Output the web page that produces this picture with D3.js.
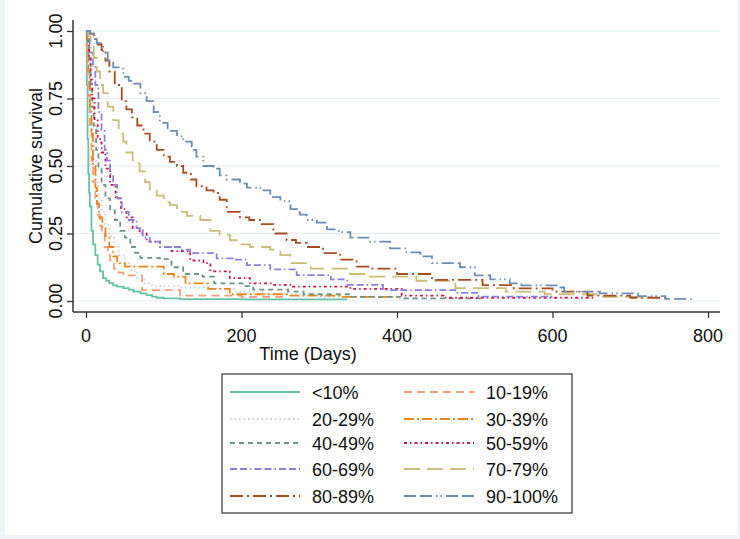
<!DOCTYPE html>
<html><head><meta charset="utf-8">
<script src="https://cdn.jsdelivr.net/npm/d3@7"></script>
<style>
html,body{margin:0;padding:0;background:#fff;}
svg{display:block;font-family:"Liberation Sans",Arial,sans-serif;}
</style></head>
<body>
<svg id="chart" width="740" height="539"></svg>
<script>
// ---------- data ----------
const groupLabels = ["<10%","10-19%","20-29%","30-39%","40-49%","50-59%","60-69%","70-79%","80-89%","90-100%"];
const xTicks = [0,200,400,600,800];
const yTicks = [0,0.25,0.5,0.75,1];
const yTickLabels = ["0.00","0.25","0.50","0.75","1.00"];

const t_g1 = [0,1,2,3,4,5,7,9,12,15,18,22,26,30,35,40,48,55,61,70,78,85,91,100,121,200,336];
const s_g1 = [1,0.8,0.6,0.47,0.4,0.35,0.26,0.21,0.17,0.135,0.11,0.085,0.075,0.066,0.058,0.053,0.048,0.042,0.035,0.028,0.022,0.016,0.012,0.010,0.007,0.006,0.006];

const t_g2 = [0,1,2,3,5,7,9,12,15,18,20,24,28,31,36,42,48,72,121,200,260];
const s_g2 = [1,0.93,0.85,0.76,0.63,0.52,0.44,0.37,0.32,0.28,0.25,0.2,0.17,0.15,0.12,0.105,0.095,0.04,0.02,0.015,0.015];

const t_g3 = [0,2,4,6,8,10,13,16,20,25,30,36,42,50,58,66,75,85,120,160,190,230,300,400,450];
const s_g3 = [1,0.93,0.82,0.7,0.6,0.52,0.44,0.38,0.33,0.28,0.24,0.2,0.17,0.14,0.11,0.085,0.065,0.055,0.05,0.045,0.035,0.025,0.015,0.008,0.008];

const t_g4 = [0,1,3,5,7,9,12,14,17,21,25,30,35,40,50,100,113,128,157,185,260,330,395];
const s_g4 = [1,0.95,0.85,0.72,0.62,0.5,0.42,0.36,0.31,0.27,0.24,0.2,0.165,0.14,0.127,0.1,0.09,0.065,0.045,0.025,0.02,0.015,0.015];

const t_g5 = [0,2,4,6,8,10,13,16,20,25,31,37,44,50,57,63,70,95,110,125,150,165,205,215,260,280,340,410,510];
const s_g5 = [1,0.96,0.88,0.8,0.72,0.65,0.56,0.49,0.43,0.38,0.34,0.3,0.26,0.235,0.2,0.178,0.16,0.155,0.125,0.1,0.09,0.065,0.055,0.042,0.035,0.025,0.015,0.01,0.01];

const t_g6 = [0,2,4,6,8,11,15,20,25,31,38,45,52,60,69,78,95,110,134,151,160,185,211,240,266,340,406,460,655];
const s_g6 = [1,0.97,0.9,0.82,0.75,0.67,0.6,0.55,0.49,0.43,0.38,0.34,0.31,0.27,0.25,0.22,0.2,0.185,0.15,0.14,0.11,0.085,0.065,0.06,0.053,0.045,0.02,0.012,0.012];

const t_g7 = [0,2,5,9,12,16,20,24,27,31,35,40,46,55,65,73,82,95,121,134,168,189,207,237,271,315,336,382,475,505,600];
const s_g7 = [1,0.97,0.92,0.87,0.8,0.7,0.63,0.56,0.52,0.47,0.43,0.38,0.33,0.3,0.27,0.235,0.22,0.2,0.19,0.177,0.158,0.153,0.133,0.117,0.096,0.08,0.06,0.04,0.03,0.016,0.016];

const t_g8 = [0,3,6,10,14,18,22,28,35,42,48,52,60,69,76,82,91,100,108,117,130,147,160,172,185,200,211,237,250,263,289,336,365,425,475,540,590,660,725];
const s_g8 = [1,0.98,0.95,0.9,0.85,0.8,0.77,0.72,0.67,0.62,0.59,0.55,0.51,0.48,0.44,0.41,0.39,0.365,0.355,0.33,0.315,0.3,0.26,0.245,0.225,0.21,0.2,0.19,0.17,0.14,0.12,0.1,0.09,0.075,0.048,0.035,0.025,0.015,0.015];

const t_g9 = [0,5,10,15,20,25,30,37,46,52,59,66,74,82,91,100,108,117,125,135,142,155,164,172,181,198,210,224,241,258,270,284,305,327,348,365,400,445,510,550,600,645,700,750];
const s_g9 = [1,0.99,0.97,0.95,0.93,0.89,0.85,0.8,0.74,0.71,0.68,0.65,0.62,0.59,0.56,0.535,0.515,0.5,0.475,0.45,0.425,0.41,0.4,0.375,0.33,0.31,0.3,0.285,0.25,0.226,0.215,0.2,0.177,0.153,0.127,0.12,0.1,0.078,0.059,0.047,0.035,0.02,0.012,0.012];

const t_g10 = [0,5,10,14,22,28,35,48,55,61,70,78,87,95,105,117,125,136,142,151,164,172,181,198,207,224,237,250,263,275,284,297,310,325,340,365,391,412,430,445,481,500,520,545,560,605,615,661,710,745,780];
const s_g10 = [1,0.99,0.97,0.955,0.92,0.89,0.865,0.83,0.815,0.805,0.77,0.74,0.7,0.66,0.63,0.61,0.59,0.56,0.535,0.5,0.49,0.465,0.45,0.435,0.42,0.41,0.385,0.37,0.34,0.32,0.3,0.29,0.265,0.255,0.235,0.22,0.195,0.18,0.165,0.14,0.125,0.095,0.08,0.065,0.058,0.05,0.035,0.028,0.018,0.008,0.008];

const seriesTimes = [t_g1,t_g2,t_g3,t_g4,t_g5,t_g6,t_g7,t_g8,t_g9,t_g10];
const seriesSurv  = [s_g1,s_g2,s_g3,s_g4,s_g5,s_g6,s_g7,s_g8,s_g9,s_g10];

// ---------- styles ----------
const colors = ["#66c2a5","#f89c7c","#c8cbea","#e8861c","#6b9681","#c8194d","#8a80da","#c9bd7a","#a84d22","#6f8db0"];
const dashes = ["none","8,5","1.5,3","10,3,2,3","5,4","3,3,1.5,3","7,3,7,3,1.5,3","16,7","13,4,2,4","12,4,12,4,1.5,3,1.5,4"];

const svg = d3.select("#chart");
const W = 740, H = 539;

// outer frame
svg.append("rect").attr("x",0).attr("y",0).attr("width",W).attr("height",H).attr("fill","#eef4f6");
svg.append("rect").attr("x",5).attr("y",0).attr("width",732).attr("height",535).attr("fill","#ffffff");

const x = d3.scaleLinear().domain([0,800]).range([86,708]);
const y = d3.scaleLinear().domain([0,1]).range([301,31]);
const plotL = 73, plotR = 720, plotT = 20, plotB = 312;

// gridlines
svg.append("g").selectAll("line").data(yTicks).join("line")
  .attr("x1",plotL).attr("x2",plotR)
  .attr("y1",d=>y(d)).attr("y2",d=>y(d))
  .attr("stroke","#e4edf1").attr("stroke-width",1.2);

// axes
const yAxis = d3.axisLeft(y).tickValues(yTicks).tickSize(6).tickFormat("");
const gy = svg.append("g").attr("transform",`translate(${plotL},0)`).call(yAxis);
gy.select(".domain").remove();
gy.selectAll(".tick line").attr("stroke","#333").attr("stroke-width",1.3);

const xAxis = d3.axisBottom(x).tickValues(xTicks).tickSize(6).tickFormat("");
const gx = svg.append("g").attr("transform",`translate(0,${plotB})`).call(xAxis);
gx.select(".domain").remove();
gx.selectAll(".tick line").attr("stroke","#333").attr("stroke-width",1.3);

svg.append("line").attr("x1",plotL).attr("x2",plotL).attr("y1",plotT).attr("y2",plotB)
  .attr("stroke","#333").attr("stroke-width",1.5);
svg.append("line").attr("x1",plotL).attr("x2",plotR).attr("y1",plotB).attr("y2",plotB)
  .attr("stroke","#333").attr("stroke-width",1.5);

// tick labels
svg.append("g").selectAll("text").data(yTicks).join("text")
  .attr("transform",d=>`translate(62,${y(d)}) rotate(-90)`)
  .attr("text-anchor","middle").attr("font-size",18).attr("fill","#111")
  .text((d,i)=>yTickLabels[i]);
svg.append("g").selectAll("text").data(xTicks).join("text")
  .attr("x",d=>x(d)).attr("y",342)
  .attr("text-anchor","middle").attr("font-size",18).attr("fill","#111")
  .text(d=>d);

// axis titles
svg.append("text").attr("transform","translate(41.5,166) rotate(-90)")
  .attr("text-anchor","middle").attr("font-size",18).attr("fill","#111").text("Cumulative survival");
svg.append("text").attr("x",308).attr("y",360)
  .attr("text-anchor","middle").attr("font-size",18).attr("fill","#111").text("Time (Days)");

// curves
const line = d3.line().x(d=>x(d[0])).y(d=>y(d[1])).curve(d3.curveStepAfter);
const gC = svg.append("g");
seriesTimes.forEach((ts,i)=>{
  const pts = ts.map((t,j)=>[t,seriesSurv[i][j]]);
  gC.append("path").datum(pts).attr("d",line)
    .attr("fill","none").attr("stroke",colors[i]).attr("stroke-width",1.8)
    .attr("stroke-dasharray",dashes[i]);
});

// legend
const lg = svg.append("g");
lg.append("rect").attr("x",222).attr("y",374).attr("width",350).attr("height",139)
  .attr("fill","#fff").attr("stroke","#333").attr("stroke-width",1.2);
const rowY = [392,419,443,469,496];
groupLabels.forEach((lab,i)=>{
  const col = i%2, row = Math.floor(i/2);
  const lx = col===0 ? 230 : 404;
  const tx = col===0 ? 312 : 486;
  const yy = rowY[row];
  lg.append("line").attr("x1",lx).attr("x2",lx+70).attr("y1",yy).attr("y2",yy)
    .attr("stroke",colors[i]).attr("stroke-width",1.8).attr("stroke-dasharray",dashes[i]);
  lg.append("text").attr("x",tx).attr("y",yy+6.5).attr("font-size",18).attr("fill","#111").text(lab);
});
</script>
</body></html>
